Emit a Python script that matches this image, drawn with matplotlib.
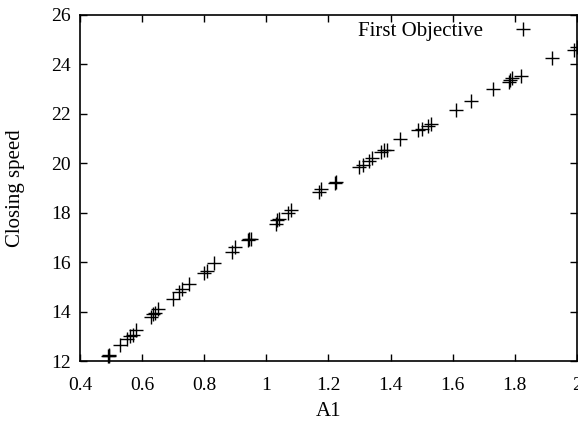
import matplotlib
matplotlib.use("Agg")
import matplotlib.pyplot as plt
from matplotlib.ticker import FuncFormatter

a1 = [0.49, 0.492, 0.495, 0.53, 0.55, 0.56, 0.57, 0.58, 0.63, 0.635, 0.64, 0.65,
      0.70, 0.72, 0.73, 0.75, 0.80, 0.81, 0.83, 0.89, 0.90, 0.94, 0.945, 0.95,
      1.03, 1.035, 1.04, 1.07, 1.08, 1.17, 1.175, 1.22, 1.225, 1.30, 1.31, 1.33,
      1.34, 1.37, 1.38, 1.39, 1.43, 1.49, 1.50, 1.52, 1.53, 1.61, 1.66, 1.73,
      1.78, 1.785, 1.79, 1.82, 1.92, 1.99, 2.0]
speed = [12.2, 12.22, 12.25, 12.65, 12.9, 13.0, 13.05, 13.25, 13.8, 13.9, 13.95, 14.1,
         14.5, 14.8, 14.9, 15.1, 15.55, 15.65, 15.95, 16.4, 16.6, 16.9, 16.92, 16.95,
         17.55, 17.7, 17.75, 18.0, 18.1, 18.85, 18.95, 19.2, 19.25, 19.85, 19.95, 20.1,
         20.2, 20.45, 20.55, 20.55, 21.0, 21.35, 21.4, 21.5, 21.6, 22.15, 22.5, 23.0,
         23.3, 23.35, 23.45, 23.55, 24.25, 24.6, 24.7]
xticks = [0.4, 0.6, 0.8, 1.0, 1.2, 1.4, 1.6, 1.8, 2.0]
yticks = [12, 14, 16, 18, 20, 22, 24, 26]

plt.rcParams['font.family'] = ['Liberation Serif', 'DejaVu Serif']
plt.rcParams['font.size'] = 14

fig = plt.figure(figsize=(5.78, 4.22), dpi=100)
ax = fig.add_axes([0.1384, 0.1445, 0.8596, 0.82])
ax.plot(a1, speed, linestyle='none', marker='+', color='black',
        markersize=9.5, markeredgewidth=1.0, label='First Objective', clip_on=False)
ax.set_xlim(0.4, 2.0)
ax.set_ylim(12, 26)
ax.set_xticks(xticks)
ax.set_yticks(yticks)
ax.xaxis.set_major_formatter(FuncFormatter(lambda v, p: f"{v:g}"))
ax.tick_params(direction='in', top=True, right=True, length=5, width=1,
               labelsize=14)
ax.tick_params(axis='x', pad=11.5)
ax.tick_params(axis='y', pad=6.5)
for s in ax.spines.values():
    s.set_linewidth(1.2)
ax.set_xlabel('A1', fontsize=15, labelpad=6)
ax.set_ylabel('Closing speed', fontsize=15, labelpad=19)
ax.legend(loc='upper right', frameon=False, markerfirst=False, fontsize=15,
          handlelength=1.5, borderaxespad=0.15, borderpad=0.15,
          handletextpad=1.17, bbox_to_anchor=(0.935, 1.0))
fig.savefig('out.png', dpi=100)
